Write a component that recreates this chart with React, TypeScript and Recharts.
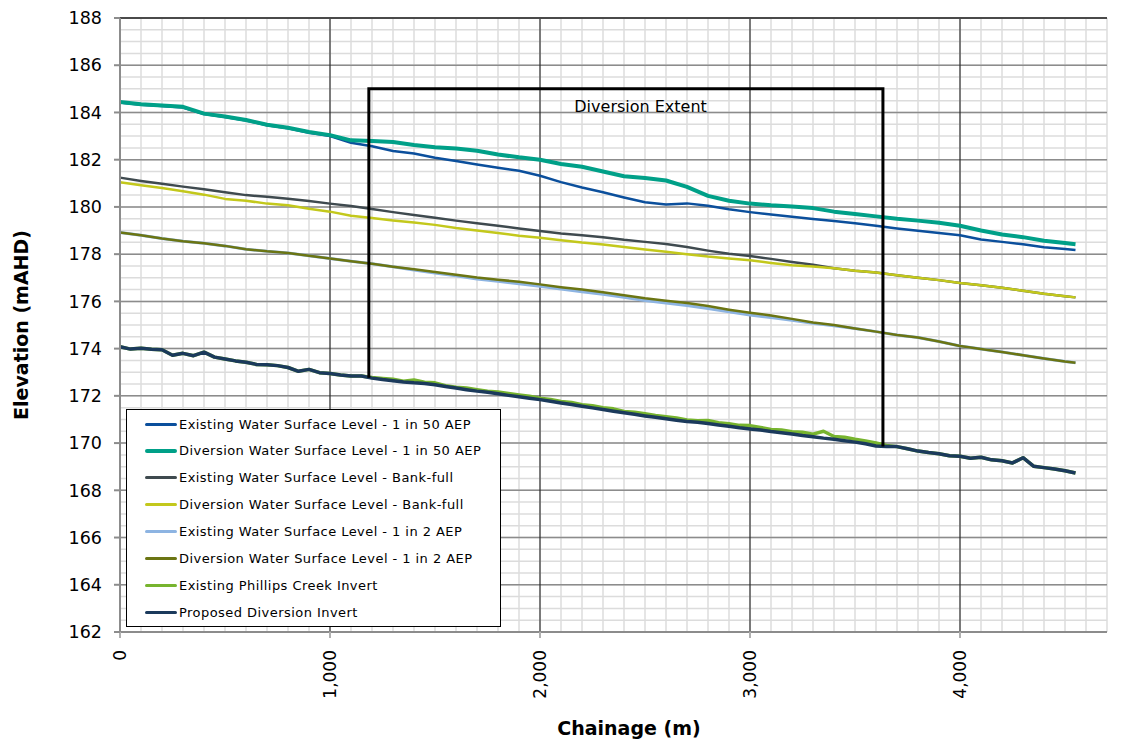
import React from "react";
import { CartesianGrid, Legend, Line, LineChart, ReferenceDot, ReferenceLine, XAxis, YAxis } from "recharts";

// water surface profiles, sampled every 100 m
const CHAINAGE = [
  0, 100, 200, 300, 400, 500, 600, 700, 800, 900, 1000, 1100, 1200, 1300, 1400, 1500, 1600, 1700, 1800, 1900,
  2000, 2100, 2200, 2300, 2400, 2500, 2600, 2700, 2800, 2900, 3000, 3100, 3200, 3300, 3400, 3500, 3600, 3700,
  3800, 3900, 4000, 4100, 4200, 4300, 4400, 4500, 4550,
];

const EXIST_50 = [
  184.42, 184.33, 184.27, 184.21, 183.93, 183.81, 183.66, 183.46, 183.33, 183.14, 183.0, 182.72, 182.57, 182.37,
  182.26, 182.08, 181.94, 181.8, 181.66, 181.53, 181.32, 181.05, 180.82, 180.62, 180.4, 180.2, 180.1, 180.15,
  180.05, 179.9, 179.78, 179.68, 179.58, 179.49, 179.4, 179.31, 179.2, 179.09, 178.99, 178.9, 178.8, 178.62,
  178.52, 178.42, 178.29, 178.22, 178.18,
];

const DIV_50 = [
  184.44, 184.35, 184.29, 184.24, 183.95, 183.83, 183.68, 183.48, 183.35, 183.17, 183.04, 182.82, 182.79, 182.75,
  182.62, 182.53, 182.47, 182.38, 182.22, 182.1, 182.0, 181.82, 181.7, 181.5, 181.3, 181.22, 181.12, 180.85,
  180.47, 180.26, 180.14, 180.07, 180.02, 179.95, 179.8, 179.7, 179.6, 179.5, 179.42, 179.33, 179.2, 179.0,
  178.83, 178.72, 178.57, 178.47, 178.42,
];

const EXIST_BANK = [
  181.24, 181.1, 180.98, 180.86, 180.75, 180.62, 180.5, 180.43, 180.35, 180.25, 180.14, 180.04, 179.91, 179.78,
  179.66, 179.54, 179.42, 179.31, 179.2, 179.09, 178.98, 178.87, 178.8, 178.72, 178.61, 178.52, 178.43, 178.3,
  178.15, 178.02, 177.92, 177.8, 177.67, 177.55, 177.4, 177.3, 177.22, 177.11, 177.0, 176.9, 176.78, 176.68,
  176.58, 176.45, 176.32, 176.22, 176.17,
];

const DIV_BANK = [
  181.04, 180.92, 180.8, 180.66, 180.52, 180.34, 180.26, 180.14, 180.07, 179.92, 179.8, 179.63, 179.53, 179.43,
  179.34, 179.24, 179.11, 179.0, 178.9, 178.78, 178.69, 178.59, 178.49, 178.41, 178.3, 178.2, 178.1, 178.0,
  177.9, 177.82, 177.74, 177.63, 177.53, 177.48, 177.4, 177.3, 177.22, 177.11, 177.0, 176.9, 176.78, 176.68,
  176.58, 176.45, 176.32, 176.22, 176.17,
];

const EXIST_2 = [
  178.92, 178.8, 178.66, 178.55, 178.46, 178.35, 178.21, 178.12, 178.05, 177.93, 177.82, 177.7, 177.59, 177.47,
  177.33, 177.2, 177.08, 176.95, 176.85, 176.75, 176.64, 176.52, 176.41, 176.3, 176.17, 176.04, 175.93, 175.83,
  175.7, 175.56, 175.42, 175.32, 175.2, 175.07, 174.97, 174.85, 174.72, 174.58, 174.47, 174.3, 174.11, 173.98,
  173.86, 173.72, 173.58, 173.45, 173.4,
];

const DIV_2 = [
  178.92, 178.8, 178.66, 178.55, 178.46, 178.35, 178.21, 178.12, 178.05, 177.93, 177.82, 177.7, 177.59, 177.47,
  177.36, 177.24, 177.13, 177.01, 176.92, 176.83, 176.72, 176.6, 176.5, 176.39, 176.26, 176.13, 176.03, 175.93,
  175.8, 175.65, 175.52, 175.4, 175.26, 175.11, 175.0, 174.85, 174.72, 174.58, 174.47, 174.3, 174.11, 173.98,
  173.86, 173.72, 173.58, 173.45, 173.4,
];

// bed levels, sampled every 50 m
const INVERT_CHAINAGE = [
  0, 50, 100, 150, 200, 250, 300, 350, 400, 450, 500, 550, 600, 650, 700, 750, 800, 850, 900, 950, 1000, 1050,
  1100, 1150, 1200, 1250, 1300, 1350, 1400, 1450, 1500, 1550, 1600, 1650, 1700, 1750, 1800, 1850, 1900, 1950,
  2000, 2050, 2100, 2150, 2200, 2250, 2300, 2350, 2400, 2450, 2500, 2550, 2600, 2650, 2700, 2750, 2800, 2850,
  2900, 2950, 3000, 3050, 3100, 3150, 3200, 3250, 3300, 3350, 3400, 3450, 3500, 3550, 3600, 3650, 3700, 3750,
  3800, 3850, 3900, 3950, 4000, 4050, 4100, 4150, 4200, 4250, 4300, 4350, 4400, 4450, 4500, 4550,
];

const EXIST_INVERT = [
  174.08, 173.98, 174.02, 173.97, 173.95, 173.72, 173.8, 173.7, 173.85, 173.64, 173.56, 173.48, 173.42, 173.33,
  173.32, 173.28, 173.2, 173.04, 173.12, 172.98, 172.95, 172.88, 172.84, 172.84, 172.78, 172.74, 172.7, 172.62,
  172.67, 172.58, 172.55, 172.43, 172.36, 172.33, 172.26, 172.2, 172.16, 172.1, 172.04, 171.98, 171.9, 171.85,
  171.76, 171.72, 171.62, 171.58, 171.5, 171.45, 171.34, 171.31, 171.24, 171.17, 171.12, 171.06, 170.98, 170.95,
  170.96, 170.86, 170.82, 170.75, 170.74, 170.66, 170.58, 170.55, 170.48, 170.46, 170.38, 170.5, 170.28, 170.25,
  170.16, 170.09, 170.0, 169.9, 169.85, 169.76, 169.66, 169.6, 169.55, 169.46, 169.44, 169.36, 169.4, 169.29,
  169.25, 169.16, 169.38, 169.02, 168.96, 168.9, 168.83, 168.73,
];

const PROPOSED_INVERT = [
  174.08, 173.98, 174.02, 173.97, 173.95, 173.72, 173.8, 173.7, 173.85, 173.64, 173.56, 173.48, 173.42, 173.33,
  173.32, 173.28, 173.2, 173.04, 173.12, 172.98, 172.95, 172.88, 172.84, 172.84, 172.75, 172.69, 172.64, 172.59,
  172.55, 172.52, 172.47, 172.4, 172.33, 172.26, 172.2, 172.15, 172.09, 172.02, 171.96, 171.9, 171.84, 171.77,
  171.7, 171.63, 171.56, 171.49, 171.42, 171.35, 171.28, 171.22, 171.15, 171.09, 171.03, 170.97, 170.91, 170.88,
  170.83, 170.77, 170.71, 170.65, 170.6, 170.55, 170.49, 170.44, 170.38, 170.32, 170.27, 170.21, 170.16, 170.1,
  170.04, 169.97, 169.88, 169.86, 169.85, 169.76, 169.66, 169.6, 169.55, 169.46, 169.44, 169.36, 169.4, 169.29,
  169.25, 169.16, 169.38, 169.02, 168.96, 168.9, 168.83, 168.73,
];

// outline of the diversion reach
const EXTENT_CHAINAGE = [1185, 1185, 3633, 3633];
const EXTENT_LEVEL = [172.77, 185, 185, 169.86];

const X_TICKS = [0, 1000, 2000, 3000, 4000];
const Y_TICKS = [162, 164, 166, 168, 170, 172, 174, 176, 178, 180, 182, 184, 186, 188];
const X_DOMAIN: [number, number] = [0, 4700];
const Y_DOMAIN: [number, number] = [162, 188];

const MINOR_X = Array.from({ length: X_DOMAIN[1] / 100 + 1 }, (_, i) => i * 100);
const MINOR_Y = Array.from({ length: 53 }, (_, i) => Y_DOMAIN[0] + i * 0.5);

const FONT = "'DejaVu Sans', Verdana, sans-serif";

// grid positions in pixels, from the plot offset and the axis domains
const gridX = (values: number[]) => ({ offset }: any) =>
  values.map((v) => offset.left + ((v - X_DOMAIN[0]) / (X_DOMAIN[1] - X_DOMAIN[0])) * offset.width);
const gridY = (values: number[]) => ({ offset }: any) =>
  values.map((v) => offset.top + ((Y_DOMAIN[1] - v) / (Y_DOMAIN[1] - Y_DOMAIN[0])) * offset.height);

type Series = { key: string; name: string; color: string; width: number; values: number[]; invert?: boolean };

const SERIES: Series[] = [
  { key: "exist50", name: "Existing Water Surface Level - 1 in 50 AEP", color: "#0b4f9c", width: 2.5, values: EXIST_50 },
  { key: "div50", name: "Diversion Water Surface Level - 1 in 50 AEP", color: "#00a088", width: 4, values: DIV_50 },
  { key: "existBank", name: "Existing Water Surface Level - Bank-full", color: "#3f4a4f", width: 2.5, values: EXIST_BANK },
  { key: "divBank", name: "Diversion Water Surface Level - Bank-full", color: "#c3c81c", width: 2.5, values: DIV_BANK },
  { key: "exist2", name: "Existing Water Surface Level - 1 in 2 AEP", color: "#8db4e2", width: 3, values: EXIST_2 },
  { key: "div2", name: "Diversion Water Surface Level - 1 in 2 AEP", color: "#6b7513", width: 2.5, values: DIV_2 },
  { key: "existInv", name: "Existing Phillips Creek Invert", color: "#77b42e", width: 3.5, values: EXIST_INVERT, invert: true },
  { key: "propInv", name: "Proposed Diversion Invert", color: "#1b3a5c", width: 3.5, values: PROPOSED_INVERT, invert: true },
];

const wsRows = CHAINAGE.map((c, i) => {
  const row: Record<string, number> = { chainage: c };
  SERIES.filter((s) => !s.invert).forEach((s) => (row[s.key] = s.values[i]));
  return row;
});

const invertRows = INVERT_CHAINAGE.map((c, i) => {
  const row: Record<string, number> = { chainage: c };
  SERIES.filter((s) => s.invert).forEach((s) => (row[s.key] = s.values[i]));
  return row;
});

const extentRows = EXTENT_CHAINAGE.map((c, i) => ({ chainage: c, level: EXTENT_LEVEL[i] }));

function XTick({ x, y, payload }: any) {
  return (
    <text
      transform={`translate(${x + 6},${y + 10}) rotate(-90)`}
      textAnchor="end"
      fontFamily={FONT}
      fontSize={17}
      fill="#000"
    >
      {Number(payload.value).toLocaleString("en-US")}
    </text>
  );
}

const chainageTitle = () => (
  <text x={629} y={735} textAnchor="middle" fontFamily={FONT} fontSize={19} fontWeight="bold" fill="#000">
    Chainage (m)
  </text>
);

const elevationTitle = () => (
  <text
    transform="translate(28,325) rotate(-90)"
    textAnchor="middle"
    fontFamily={FONT}
    fontSize={19}
    fontWeight="bold"
    fill="#000"
  >
    Elevation (mAHD)
  </text>
);

function LegendBox() {
  return (
    <div
      style={{
        width: 375,
        height: 218,
        boxSizing: "border-box",
        border: "1.5px solid #000",
        background: "#fff",
        position: "relative",
      }}
    >
      {SERIES.map((s, i) => (
        <div
          key={s.key}
          style={{
            position: "absolute",
            left: 18,
            top: 4 + i * 26.9,
            height: 20,
            display: "flex",
            alignItems: "center",
            whiteSpace: "nowrap",
          }}
        >
          <span style={{ display: "inline-block", width: 32, height: s.width >= 4 ? 4 : 3, background: s.color, borderRadius: 2 }} />
          <span style={{ fontFamily: FONT, fontSize: 13, letterSpacing: 0.45, color: "#000", marginLeft: 2 }}>{s.name}</span>
        </div>
      ))}
    </div>
  );
}

export default function App() {
  return (
    <div style={{ position: "absolute", left: 0, top: 0, background: "#fff" }}>
      <LineChart width={1122} height={742} margin={{ top: 18, right: 15, bottom: 50, left: 0 }}>
        <CartesianGrid
          stroke="#dcdcdc"
          strokeWidth={1.5}
          horizontalCoordinatesGenerator={gridY(MINOR_Y)}
          verticalCoordinatesGenerator={gridX(MINOR_X)}
        />
        <CartesianGrid stroke="#8c8c8c" strokeWidth={1.5} vertical={false} horizontalCoordinatesGenerator={gridY(Y_TICKS)} />
        <CartesianGrid stroke="#111" strokeWidth={1} horizontal={false} verticalCoordinatesGenerator={gridX(X_TICKS.slice(1))} />
        <XAxis
          dataKey="chainage"
          type="number"
          domain={X_DOMAIN}
          ticks={X_TICKS}
          height={60}
          allowDuplicatedCategory={false}
          axisLine={{ stroke: "#8c8c8c", strokeWidth: 2 }}
          tickLine={{ stroke: "#b0b0b0", strokeWidth: 2 }}
          tickSize={6}
          tick={<XTick />}
          label={chainageTitle}
        />
        <YAxis
          type="number"
          domain={Y_DOMAIN}
          ticks={Y_TICKS}
          width={120}
          interval={0}
          axisLine={{ stroke: "#8c8c8c", strokeWidth: 2 }}
          tickLine={{ stroke: "#8c8c8c", strokeWidth: 2 }}
          tickSize={6}
          tickMargin={12}
          tick={{ fontFamily: FONT, fontSize: 17.5, fill: "#000" }}
          label={elevationTitle}
        />
        <ReferenceLine y={188} stroke="#4a4a4a" strokeWidth={2} />
        {SERIES.map((s) => (
          <Line
            key={s.key}
            data={s.invert ? invertRows : wsRows}
            dataKey={s.key}
            name={s.name}
            type="linear"
            stroke={s.color}
            strokeWidth={s.width}
            strokeLinejoin="round"
            dot={false}
            activeDot={false}
            isAnimationActive={false}
          />
        ))}
        <Line
          data={extentRows}
          dataKey="level"
          type="linear"
          stroke="#000"
          strokeWidth={3}
          dot={false}
          activeDot={false}
          legendType="none"
          isAnimationActive={false}
        />
        <ReferenceDot
          x={2479}
          y={184.27}
          r={0}
          fill="none"
          stroke="none"
          label={{ value: "Diversion Extent", position: "center", fontFamily: FONT, fontSize: 16, fill: "#000" }}
        />
        <Legend
          layout="vertical"
          align="center"
          verticalAlign="middle"
          wrapperStyle={{ left: 126, top: 409, width: 375, height: 218 }}
          content={() => <LegendBox />}
        />
      </LineChart>
    </div>
  );
}
